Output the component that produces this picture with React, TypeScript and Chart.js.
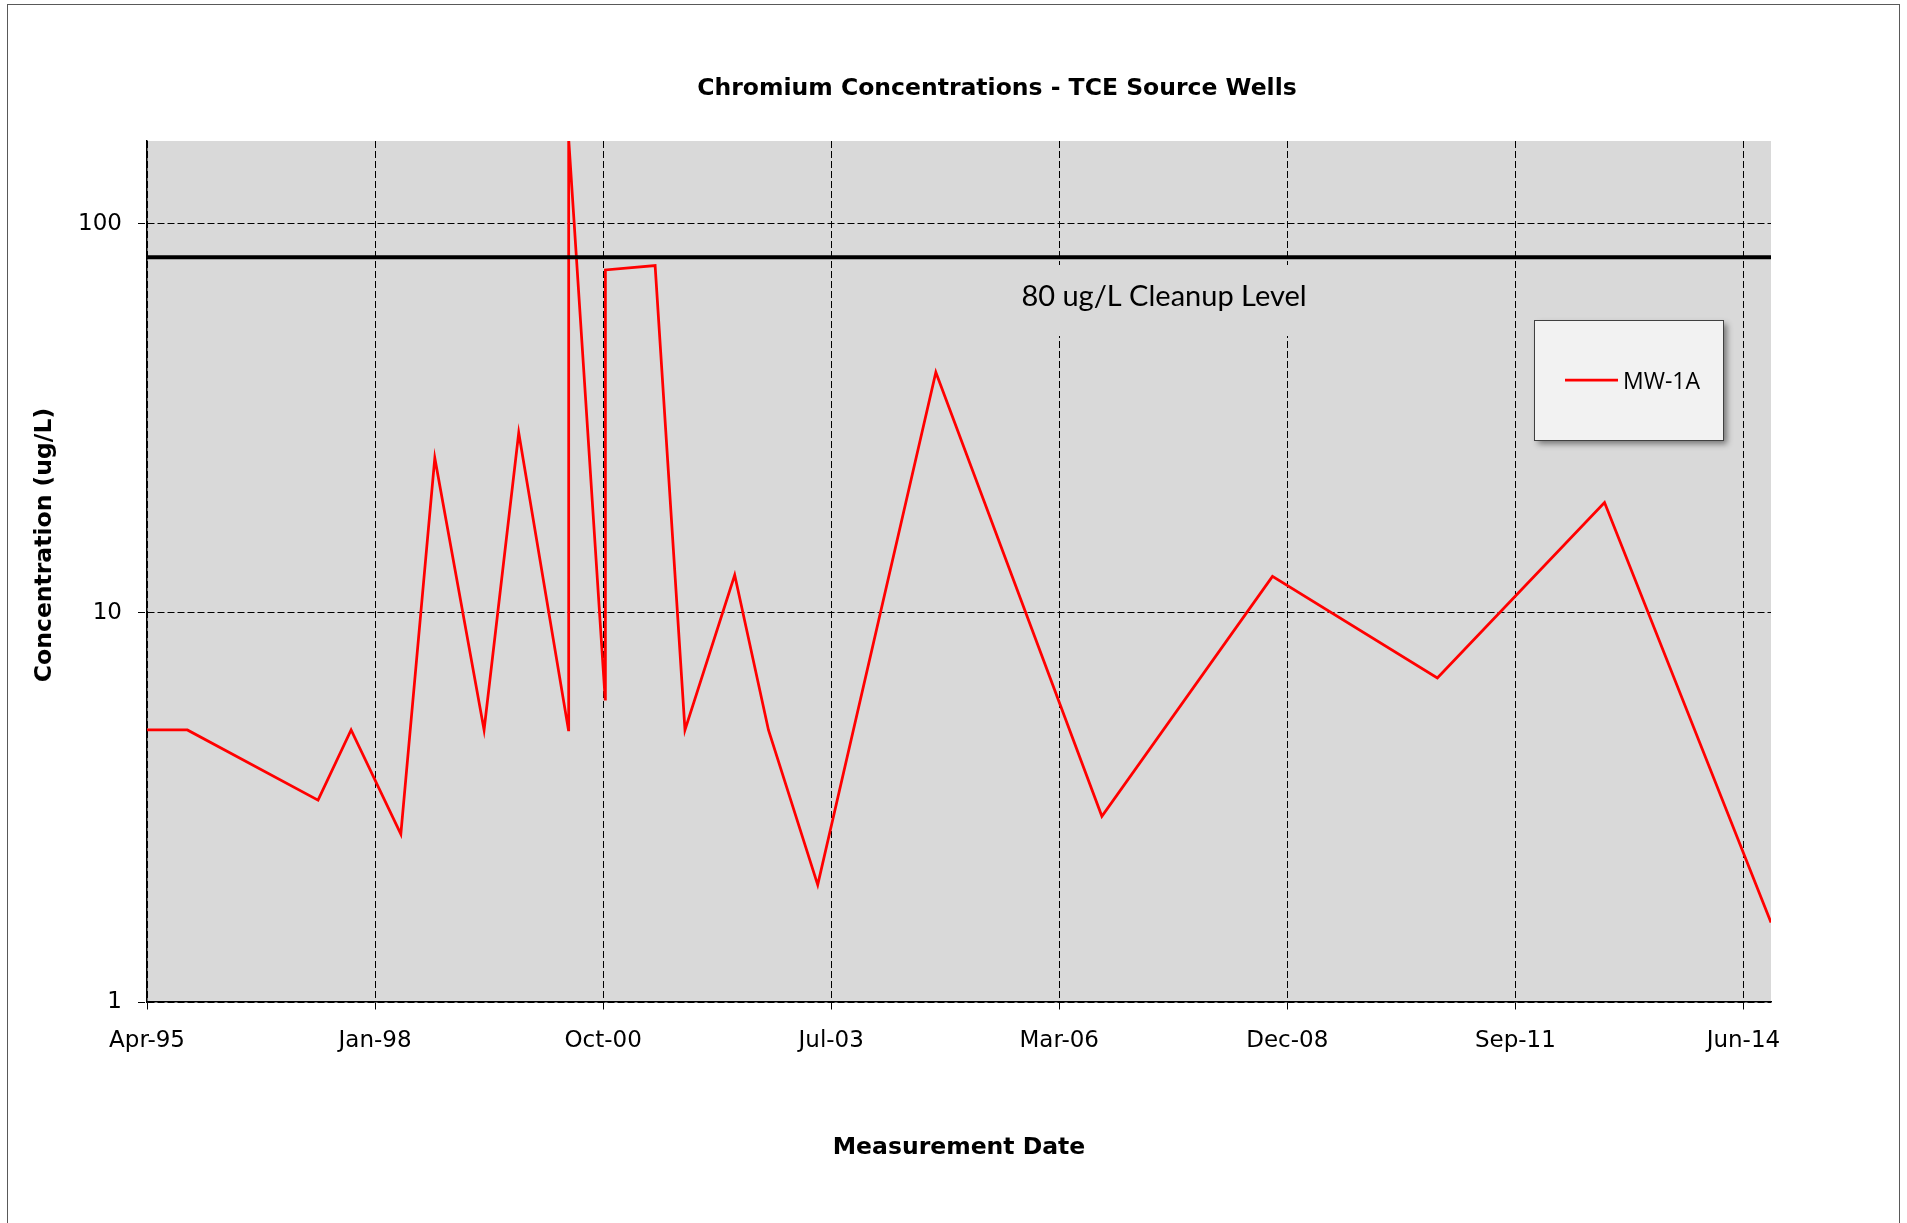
import React, { useEffect, useRef } from "react";
import { Chart, registerables } from "chart.js";

Chart.register(...registerables);

// ---------------- data ----------------
const CHART_TITLE = "Chromium Concentrations - TCE Source Wells";
const X_AXIS_TITLE = "Measurement Date";
const Y_AXIS_TITLE = "Concentration (ug/L)";
const SERIES_LABEL = "MW-1A";

const SAMPLE_DATES = [
  "1995-04-16", "1995-10-10", "1997-05-05", "1997-09-27", "1998-05-03",
  "1998-09-29", "1999-05-03", "1999-10-02", "2000-05-07", "2000-05-08",
  "2000-10-15", "2000-10-16", "2001-05-22", "2001-09-30", "2002-05-06",
  "2002-10-01", "2003-05-05", "2004-10-04", "2006-10-02", "2008-10-19",
  "2010-10-12", "2012-10-14", "2014-10-14",
];
const MW1A_VALUES = [
  5, 5, 3.3, 5, 2.7,
  25, 5, 29, 5, 165,
  6, 76, 78, 5, 12.5,
  5, 2, 41.5, 3, 12.4,
  6.8, 19.2, 1.6,
];

const CLEANUP_LABEL = "80 ug/L Cleanup Level";
const CLEANUP_LINE_VALUE = 82; // where the drawn level line sits on the log axis

const X_AXIS_START = "1995-04-16";
const X_AXIS_END = "2014-10-14";
const X_TICK_STEP_DAYS = 1000;
const Y_MIN = 1;
const Y_MAX = 163;
const Y_TICKS = [1, 10, 100];
const MONTHS = ["Jan", "Feb", "Mar", "Apr", "May", "Jun", "Jul", "Aug", "Sep", "Oct", "Nov", "Dec"];

// ---------------- helpers ----------------
const DAY_MS = 86400000;
function dayNum(s: string): number {
  const [y, m, d] = s.split("-").map(Number);
  return Date.UTC(y, m - 1, d) / DAY_MS;
}
function fmtDay(v: number): string {
  const dt = new Date(Math.round(v) * DAY_MS);
  const yy = String(dt.getUTCFullYear() % 100).padStart(2, "0");
  return `${MONTHS[dt.getUTCMonth()]}-${yy}`;
}

const W = 1907;
const H = 1223;
const PLOT_LEFT = 147;
const PLOT_RIGHT = 1771;
const PLOT_TOP = 141;
const PLOT_BOTTOM = 1002;
const PLOT_BG = "#d9d9d9";
const TICK_FONT = { family: "'DejaVu Sans', sans-serif", size: 23 };
const TITLE_FONT = { family: "'DejaVu Sans', sans-serif", size: 23.5, weight: "bold" as const };
const DASH = [7, 3];

export default function App() {
  const canvasRef = useRef<HTMLCanvasElement | null>(null);

  useEffect(() => {
    const canvas = canvasRef.current;
    if (!canvas) return;

    const xMin = dayNum(X_AXIS_START);
    const xMax = dayNum(X_AXIS_END);
    const xTicks: number[] = [];
    for (let v = xMin; v <= xMax; v += X_TICK_STEP_DAYS) xTicks.push(v);

    const seriesPoints = SAMPLE_DATES.map((d, i) => ({ x: dayNum(d), y: MW1A_VALUES[i] }));
    const cleanupPoints = [
      { x: xMin, y: CLEANUP_LINE_VALUE },
      { x: xMax, y: CLEANUP_LINE_VALUE },
    ];

    const decorPlugin = {
      id: "decor",
      beforeDraw(chart: any) {
        const { ctx, chartArea } = chart;
        ctx.save();
        ctx.fillStyle = "#ffffff";
        ctx.fillRect(0, 0, W, H);
        ctx.strokeStyle = "#595959";
        ctx.lineWidth = 1;
        ctx.strokeRect(7.5, 4.5, 1892, 1260);
        ctx.fillStyle = PLOT_BG;
        ctx.fillRect(chartArea.left, chartArea.top, chartArea.right - chartArea.left, chartArea.bottom - chartArea.top);
        ctx.restore();
      },
      beforeDatasetsDraw(chart: any) {
        const { ctx } = chart;
        ctx.save();
        // text box of the cleanup label (hides gridlines behind it)
        ctx.fillStyle = PLOT_BG;
        ctx.fillRect(1008, 265, 310, 71);
        ctx.fillStyle = "#000000";
        ctx.font = "29px Lato, 'Open Sans', sans-serif";
        ctx.textAlign = "center";
        ctx.textBaseline = "alphabetic";
        ctx.fillText(CLEANUP_LABEL, 1164, 306);
        ctx.restore();
      },
      afterDraw(chart: any) {
        const { ctx } = chart;
        ctx.save();
        // chart title
        ctx.fillStyle = "#000000";
        ctx.font = `bold ${TITLE_FONT.size}px ${TITLE_FONT.family}`;
        ctx.textAlign = "center";
        ctx.textBaseline = "middle";
        ctx.fillText(CHART_TITLE, 997, 89);

        // y axis title
        ctx.save();
        ctx.translate(45, 545);
        ctx.rotate(-Math.PI / 2);
        ctx.fillText(Y_AXIS_TITLE, 0, 0);
        ctx.restore();

        // legend box
        const ds = chart.data.datasets[0];
        const bx = 1534.5, by = 320.5, bw = 189, bh = 120;
        ctx.save();
        ctx.shadowColor = "rgba(0,0,0,0.45)";
        ctx.shadowBlur = 6;
        ctx.shadowOffsetX = 3;
        ctx.shadowOffsetY = 3;
        ctx.fillStyle = "#f2f2f2";
        ctx.fillRect(bx, by, bw, bh);
        ctx.restore();
        ctx.strokeStyle = "#404040";
        ctx.lineWidth = 1;
        ctx.strokeRect(bx, by, bw, bh);
        ctx.strokeStyle = ds.borderColor;
        ctx.lineWidth = ds.borderWidth;
        ctx.beginPath();
        ctx.moveTo(1565, 380);
        ctx.lineTo(1618, 380);
        ctx.stroke();
        ctx.fillStyle = "#000000";
        ctx.font = "23px 'Open Sans', sans-serif";
        ctx.textAlign = "left";
        ctx.textBaseline = "alphabetic";
        ctx.fillText(ds.label, 1623, 389);
        ctx.restore();
      },
    };

    const chart = new Chart(canvas, {
      type: "line",
      data: {
        datasets: [
          {
            label: SERIES_LABEL,
            data: seriesPoints,
            borderColor: "#ff0000",
            backgroundColor: "#ff0000",
            borderWidth: 2.75,
            pointRadius: 0,
            tension: 0,
            fill: false,
            clip: 0,
            order: 1,
          },
          {
            label: CLEANUP_LABEL,
            data: cleanupPoints,
            borderColor: "#000000",
            backgroundColor: "#000000",
            borderWidth: 4,
            pointRadius: 0,
            fill: false,
            clip: 2,
            order: 0,
          },
        ],
      },
      options: {
        responsive: false,
        devicePixelRatio: 1,
        animation: false,
        events: [],
        layout: { padding: { top: PLOT_TOP, right: W - PLOT_RIGHT, left: 0, bottom: 0 } },
        plugins: {
          legend: { display: false },
          title: { display: false },
          tooltip: { enabled: false },
        },
        scales: {
          x: {
            type: "linear",
            min: xMin,
            max: xMax,
            afterBuildTicks: (s: any) => {
              s.ticks = xTicks.map((v) => ({ value: v }));
            },
            afterFit: (s: any) => {
              s.height = H - PLOT_BOTTOM;
              s.paddingLeft = 0;
              s.paddingRight = 0;
            },
            ticks: {
              callback: (v: any) => fmtDay(Number(v)),
              font: TICK_FONT,
              color: "#000000",
              padding: 16,
              maxRotation: 0,
              minRotation: 0,
              autoSkip: false,
            },
            grid: {
              color: "#000000",
              lineWidth: 1,
              tickLength: 9,
              tickColor: "#000000",
              tickBorderDash: DASH,
            },
            border: { display: true, color: "#000000", width: 1.5, dash: DASH },
            title: {
              display: true,
              text: X_AXIS_TITLE,
              color: "#000000",
              font: TITLE_FONT,
              padding: { top: 0, bottom: 61 },
            },
          },
          y: {
            type: "logarithmic",
            min: Y_MIN,
            max: Y_MAX,
            afterBuildTicks: (s: any) => {
              s.ticks = Y_TICKS.map((v) => ({ value: v }));
            },
            afterFit: (s: any) => {
              s.width = PLOT_LEFT;
              s.paddingTop = 0;
              s.paddingBottom = 0;
            },
            ticks: {
              callback: (v: any) => String(v),
              font: TICK_FONT,
              color: "#000000",
              padding: 16,
              autoSkip: false,
            },
            grid: {
              color: "#000000",
              lineWidth: 1,
              tickLength: 9,
              tickColor: "#000000",
              tickBorderDash: DASH,
            },
            border: { display: true, color: "#000000", width: 1.5, dash: DASH },
            title: { display: false },
          },
        },
      },
      plugins: [decorPlugin],
    } as any);

    return () => {
      chart.destroy();
    };
  }, []);

  return (
    <div style={{ position: "absolute", left: 0, top: 0, width: W, height: H }}>
      <canvas ref={canvasRef} width={W} height={H} style={{ display: "block" }} />
    </div>
  );
}
